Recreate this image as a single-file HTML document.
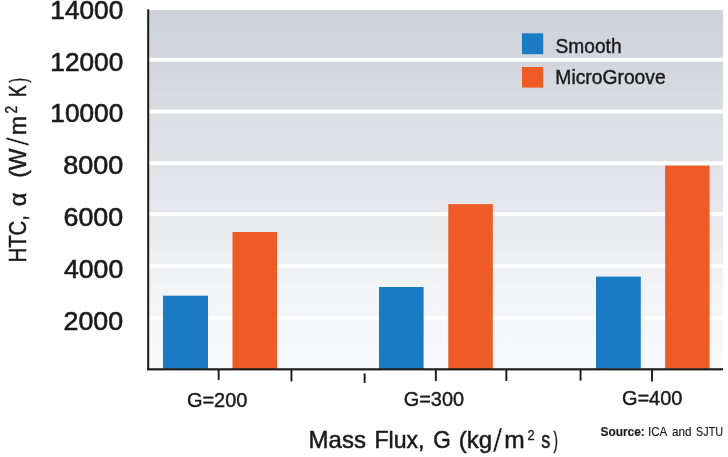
<!DOCTYPE html>
<html><head><meta charset="utf-8">
<style>
html,body{margin:0;padding:0;background:#fff;}
body{width:728px;height:457px;overflow:hidden;}
svg{display:block;font-family:"Liberation Sans",sans-serif;}
</style></head><body>
<svg width="728" height="457" viewBox="0 0 728 457">
<defs>
<linearGradient id="bg" x1="0" y1="0" x2="0" y2="1">
<stop offset="0" stop-color="#cdd1d9"/>
<stop offset="0.21" stop-color="#d6dadf"/>
<stop offset="0.35" stop-color="#dde0e4"/>
<stop offset="0.5" stop-color="#e4e5ea"/>
<stop offset="0.64" stop-color="#ebecf0"/>
<stop offset="0.78" stop-color="#f2f4f8"/>
<stop offset="0.93" stop-color="#f6f8fb"/>
<stop offset="1" stop-color="#f8f9fc"/>
</linearGradient>
<filter id="bl" x="-5%" y="-50%" width="110%" height="200%"><feGaussianBlur stdDeviation="0 0.55"/></filter>
</defs>
<rect x="0" y="0" width="728" height="457" fill="#ffffff"/>
<rect x="148" y="10" width="575" height="359" fill="url(#bg)"/>
<g fill="#ffffff" filter="url(#bl)">
<rect x="148" y="57.8" width="575" height="3.9"/>
<rect x="148" y="109.6" width="575" height="3.9"/>
<rect x="148" y="161.4" width="575" height="3.9"/>
<rect x="148" y="212.2" width="575" height="3.9"/>
<rect x="148" y="264.2" width="575" height="3.9"/>
<rect x="148" y="316.2" width="575" height="3.9"/>
</g>
<g fill="#1a7bc5">
<rect x="163" y="295.7" width="45" height="73"/>
<rect x="379" y="287" width="44.6" height="82"/>
<rect x="596" y="276.6" width="44.8" height="92"/>
<rect x="522" y="33.3" width="21.2" height="20.9"/>
</g>
<g fill="#ee5b27">
<rect x="232.5" y="232" width="44.6" height="137"/>
<rect x="448.3" y="204.1" width="44.5" height="165"/>
<rect x="665.1" y="165.6" width="44.5" height="203"/>
<rect x="522" y="67" width="21.2" height="20.6"/>
</g>
<g fill="#1a1a1a">
<rect x="147.2" y="9.3" width="2" height="360.7"/>
<rect x="147.2" y="368.25" width="575.8" height="2.15"/>
<rect x="217.7" y="370" width="1.9" height="9.9"/>
<rect x="290.5" y="370" width="1.9" height="11.4"/>
<rect x="363.7" y="373.4" width="1.9" height="9.6"/>
<rect x="434.9" y="370" width="1.9" height="11"/>
<rect x="505.4" y="370" width="1.9" height="11"/>
<rect x="579.6" y="370" width="1.9" height="10.6"/>
<rect x="651.1" y="370" width="1.9" height="11.5"/>
</g>
<g fill="#1a1a1a" stroke="#1a1a1a" stroke-width="0.25">
<text><tspan x="50.39" y="18.50" font-size="25.90" stroke-width="0.6" textLength="72.82" lengthAdjust="spacingAndGlyphs">14000</tspan></text>
<text><tspan x="50.39" y="70.50" font-size="25.90" stroke-width="0.6" textLength="72.82" lengthAdjust="spacingAndGlyphs">12000</tspan></text>
<text><tspan x="50.39" y="122.40" font-size="25.90" stroke-width="0.6" textLength="72.82" lengthAdjust="spacingAndGlyphs">10000</tspan></text>
<text><tspan x="63.16" y="174.00" font-size="25.90" stroke-width="0.6" textLength="60.06" lengthAdjust="spacingAndGlyphs">8000</tspan></text>
<text><tspan x="63.56" y="226.00" font-size="25.90" stroke-width="0.6" textLength="59.65" lengthAdjust="spacingAndGlyphs">6000</tspan></text>
<text><tspan x="64.00" y="277.80" font-size="25.90" stroke-width="0.6" textLength="59.21" lengthAdjust="spacingAndGlyphs">4000</tspan></text>
<text><tspan x="63.56" y="329.80" font-size="25.90" stroke-width="0.6" textLength="59.65" lengthAdjust="spacingAndGlyphs">2000</tspan></text>
<text><tspan x="186.93" y="406.90" font-size="20.60" stroke-width="0.42" textLength="60.51" lengthAdjust="spacingAndGlyphs">G=200</tspan></text>
<text><tspan x="403.73" y="405.60" font-size="20.60" stroke-width="0.42" textLength="60.41" lengthAdjust="spacingAndGlyphs">G=300</tspan></text>
<text><tspan x="621.93" y="405.10" font-size="20.60" stroke-width="0.42" textLength="60.51" lengthAdjust="spacingAndGlyphs">G=400</tspan></text>
<text><tspan x="555.60" y="52.60" font-size="20.20" stroke-width="0.42" textLength="65.96" lengthAdjust="spacingAndGlyphs">Smooth</tspan></text>
<text><tspan x="555.34" y="84.20" font-size="20.20" stroke-width="0.42" textLength="110.37" lengthAdjust="spacingAndGlyphs">MicroGroove</tspan></text>
<text><tspan x="308.60" y="447.80" font-size="24.00" stroke-width="0.5" textLength="57.30" lengthAdjust="spacingAndGlyphs">Mass</tspan> <tspan x="374.44" y="447.80" font-size="24.00" stroke-width="0.5" textLength="50.08" lengthAdjust="spacingAndGlyphs">Flux,</tspan> <tspan x="433.36" y="447.80" font-size="24.00" stroke-width="0.5" textLength="17.50" lengthAdjust="spacingAndGlyphs">G</tspan> <tspan x="458.80" y="447.80" font-size="24.00" stroke-width="0.5" textLength="33.35" lengthAdjust="spacingAndGlyphs">(kg</tspan><tspan x="492.80" y="452.20" font-size="33.32" stroke="#ffffff" stroke-width="0.55" textLength="9.62" lengthAdjust="spacingAndGlyphs">/</tspan><tspan x="504.38" y="447.80" font-size="24.00" stroke-width="0.5" textLength="20.44" lengthAdjust="spacingAndGlyphs">m</tspan><tspan x="527.60" y="440.00" font-size="15.00" stroke-width="0.35" textLength="7.09" lengthAdjust="spacingAndGlyphs">2</tspan> <tspan x="541.30" y="447.80" font-size="24.00" stroke-width="0.5" textLength="9.00" lengthAdjust="spacingAndGlyphs">s</tspan><tspan x="553.50" y="447.80" font-size="24.00" stroke-width="0.5" textLength="4.45" lengthAdjust="spacingAndGlyphs">)</tspan></text>
<text><tspan x="600.50" y="436.30" font-size="12.80" font-weight="bold" stroke-width="0.15" textLength="44.34" lengthAdjust="spacingAndGlyphs">Source:</tspan> <tspan x="648.00" y="436.30" font-size="12.80" stroke-width="0.15" textLength="19.28" lengthAdjust="spacingAndGlyphs">ICA</tspan> <tspan x="672.10" y="436.30" font-size="12.80" stroke-width="0.15" textLength="19.51" lengthAdjust="spacingAndGlyphs">and</tspan> <tspan x="696.00" y="436.30" font-size="12.80" stroke-width="0.15" textLength="27.10" lengthAdjust="spacingAndGlyphs">SJTU</tspan></text>
<text transform="rotate(-90)"><tspan x="-262.55" y="25.70" font-size="24.00" stroke-width="0.5" textLength="47.48" lengthAdjust="spacingAndGlyphs">HTC,</tspan> <tspan x="-206.18" y="25.70" font-size="24.00" stroke-width="0.5" textLength="13.66" lengthAdjust="spacingAndGlyphs">α</tspan> <tspan x="-177.86" y="25.70" font-size="24.00" stroke-width="0.5" textLength="29.32" lengthAdjust="spacingAndGlyphs">(W</tspan><tspan x="-145.90" y="28.70" font-size="31.20" stroke="#ffffff" stroke-width="0.55" textLength="8.95" lengthAdjust="spacingAndGlyphs">/</tspan><tspan x="-135.06" y="25.70" font-size="24.00" stroke-width="0.5" textLength="19.10" lengthAdjust="spacingAndGlyphs">m</tspan><tspan x="-113.40" y="17.30" font-size="16.40" stroke-width="0.35" textLength="7.60" lengthAdjust="spacingAndGlyphs">2</tspan> <tspan x="-96.94" y="25.70" font-size="24.00" stroke-width="0.5" textLength="11.85" lengthAdjust="spacingAndGlyphs">K</tspan><tspan x="-82.50" y="25.70" font-size="24.00" stroke-width="0.5" textLength="4.57" lengthAdjust="spacingAndGlyphs">)</tspan></text>
</g>
</svg>
</body></html>
